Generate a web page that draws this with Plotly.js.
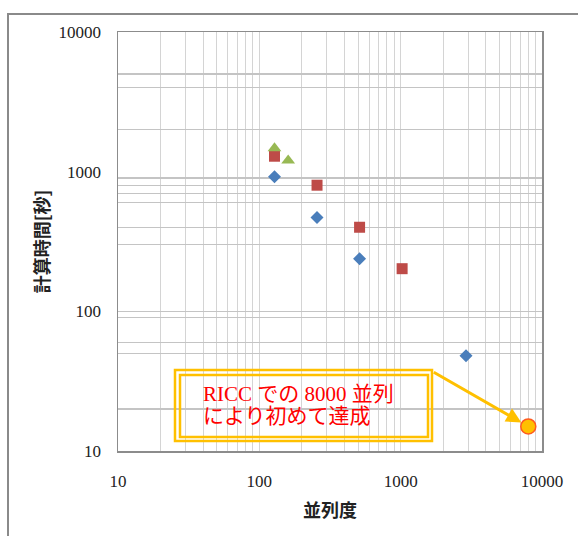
<!DOCTYPE html>
<html>
<head>
<meta charset="utf-8">
<script src="https://cdn.plot.ly/plotly-3.0.1.min.js"></script>
<style>html,body{margin:0;padding:0;background:#fff;}#chart{width:578px;height:536px;}</style>
</head>
<body>
<div id="chart"></div>
<script>
// ---- data ----
const seriesA_x = [128, 256, 512, 2900];
const seriesA_y = [920, 470, 238, 48];
const seriesB_x = [128, 256, 512, 1024];
const seriesB_y = [1290, 800, 400, 202];
const seriesC_x = [128, 160];
const seriesC_y = [1470, 1200];
const highlight_x = [8000];
const highlight_y = [15];

const xTickVals = [10, 100, 1000, 10000];
const xTickText = ['10', '100', '1000', '10000'];
const yTickVals = [10, 100, 1000, 10000];
const yTickText = ['10', '100', '1000', '10000'];
const xMinorGrid = [20,30,40,50,60,70,80,90,200,300,400,500,600,700,800,900,2000,3000,4000,5000,6000,7000,8000,9000];
const yGridVals = [20, 50, 60, 90, 100, 300, 400, 600, 700, 800, 900, 2000, 4000, 5000];

const calloutLines = ['RICC での 8000 並列', 'により初めて達成'];
const xTitle = '並列度';
const yTitle = '計算時間[秒]';

const traces = [
  {x: seriesA_x, y: seriesA_y, mode: 'markers', type: 'scatter',
   marker: {symbol: 'diamond', size: 10, color: '#4a7ebb'}},
  {x: seriesB_x, y: seriesB_y, mode: 'markers', type: 'scatter',
   marker: {symbol: 'square', size: 11, color: '#be4b48'}},
  {x: seriesC_x, y: seriesC_y, mode: 'markers', type: 'scatter',
   marker: {symbol: 'triangle-up', size: 12, color: '#98b954'}},
  {x: highlight_x, y: highlight_y, mode: 'markers', type: 'scatter',
   marker: {symbol: 'circle', size: 15, color: '#ffc000', line: {color: '#ff5a1f', width: 1.5}}},
  {x: [], y: [], xaxis: 'x', yaxis: 'y2', type: 'scatter', mode: 'markers', showlegend: false, hoverinfo: 'skip'}
];

const serif = 'Liberation Serif, Times New Roman, serif';
const cjk = 'Noto Sans CJK JP, sans-serif';
const calloutFont = 'Liberation Serif, Noto Sans CJK JP, serif';

// plot area in pixels: x 118..542, y 32..451
const L = 118, R = 542, T = 32, B = 451;
const px = v => (v - L) / (R - L);
const py = v => (B - v) / (B - T);

const layout = {
  width: 578, height: 536,
  margin: {l: L, r: 578 - R, t: T, b: 536 - B},
  paper_bgcolor: '#ffffff', plot_bgcolor: '#ffffff',
  showlegend: false,
  xaxis: {
    type: 'log', range: [1, 4],
    tickvals: xTickVals, ticktext: xTickText,
    showgrid: true, gridcolor: '#d4d4d4', gridwidth: 1,
    minor: {tickvals: xMinorGrid, showgrid: true, gridcolor: '#d4d4d4', gridwidth: 1, ticks: ''},
    showline: true, linecolor: '#8c8c8c', linewidth: 1.5, mirror: true,
    ticks: '', ticklabelstandoff: 14,
    tickfont: {family: serif, size: 17, color: '#222'},
    zeroline: false,
    title: {text: xTitle, font: {family: cjk, size: 18, color: '#222', weight: 'bold'}, standoff: 14}
  },
  yaxis: {
    type: 'log', range: [1, 4],
    tickvals: yTickVals, ticktext: yTickText,
    showgrid: false,
    showline: true, linecolor: '#8c8c8c', linewidth: 1.5, mirror: true,
    ticks: '', ticklabelstandoff: 12,
    tickfont: {family: serif, size: 17, color: '#222'},
    zeroline: false,
    title: {text: yTitle, font: {family: cjk, size: 18, color: '#222', weight: 'bold'}, standoff: 4}
  },
  yaxis2: {
    type: 'log', range: [1, 4], overlaying: 'y', side: 'left',
    tickvals: yGridVals, showticklabels: false, ticks: '',
    showgrid: true, gridcolor: '#c4c4c4', gridwidth: 1.2, zeroline: false, showline: false
  },
  shapes: [
    // outer chart frame
    {type: 'rect', xref: 'paper', yref: 'paper', x0: px(8), x1: px(600), y0: py(560), y1: py(14),
     line: {color: '#8a8a8a', width: 2}, fillcolor: 'rgba(0,0,0,0)', layer: 'below'},
    // callout double border
    {type: 'rect', xref: 'paper', yref: 'paper', x0: px(175), x1: px(432), y0: py(441), y1: py(370),
     line: {color: '#ffc000', width: 2.5}, fillcolor: 'rgba(0,0,0,0)'},
    {type: 'rect', xref: 'paper', yref: 'paper', x0: px(180), x1: px(428), y0: py(437), y1: py(375),
     line: {color: '#ffc000', width: 2.5}, fillcolor: 'rgba(0,0,0,0)'}
  ],
  annotations: [
    {xref: 'paper', yref: 'paper', x: px(201), y: py(394), xanchor: 'left', yanchor: 'middle',
     align: 'left', showarrow: false, text: calloutLines[0],
     font: {family: calloutFont, size: 21, color: '#ff0000'}},
    {xref: 'paper', yref: 'paper', x: px(201), y: py(416), xanchor: 'left', yanchor: 'middle',
     align: 'left', showarrow: false, text: calloutLines[1],
     font: {family: calloutFont, size: 21, color: '#ff0000'}},
    {x: Math.log10(highlight_x[0]), y: Math.log10(highlight_y[0]), xref: 'x', yref: 'y',
     ax: -96, ay: -55, showarrow: true, text: '', arrowhead: 2, arrowsize: 1,
     arrowwidth: 3, arrowcolor: '#ffc000', standoff: 8}
  ]
};

Plotly.newPlot('chart', traces, layout, {staticPlot: true, displayModeBar: false});
</script>
</body>
</html>
